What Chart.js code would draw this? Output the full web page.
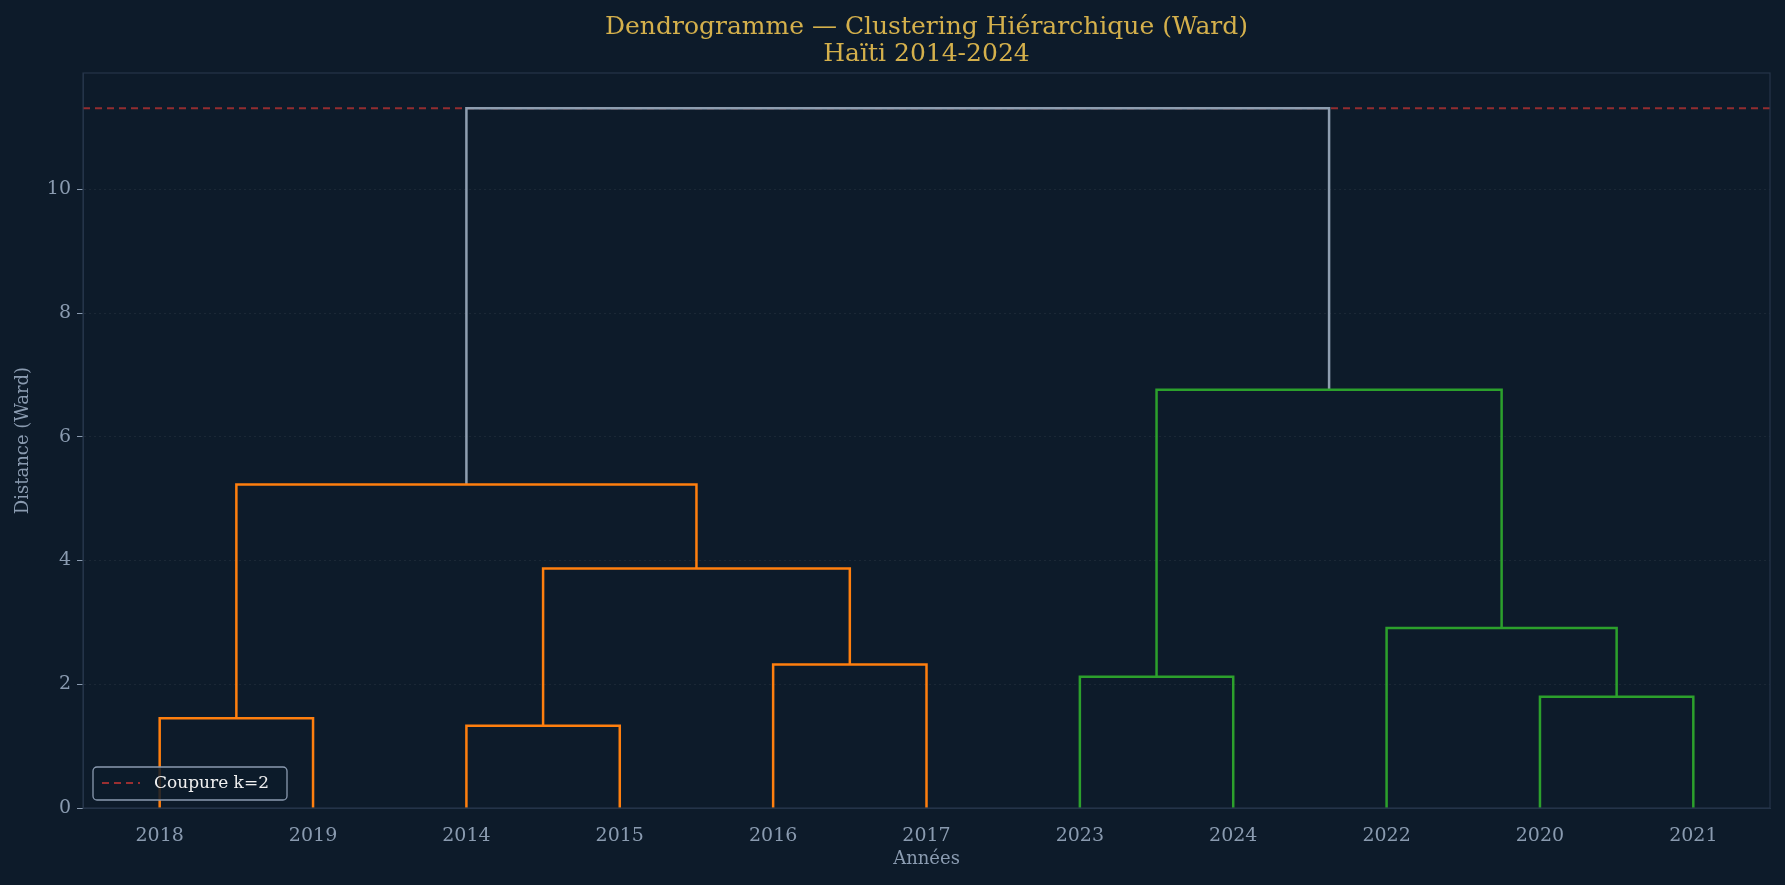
<!DOCTYPE html>
<html><head><meta charset="utf-8">
<script src="https://cdn.jsdelivr.net/npm/chart.js@4/dist/chart.umd.min.js"></script>
<style>html,body{margin:0;padding:0;background:#0d1b2a;}#w{width:1785px;height:885px;}</style>
</head><body><div id="w"><canvas id="c"></canvas></div>
<script>
const leafLabels = ['2018','2019','2014','2015','2016','2017','2023','2024','2022','2020','2021'];
// merges: children are leaf indices (0..10) or previous merge ids ('m0'...)
const mergeLeft   = [0, 2, 4, 'm1', 'm0', 6, 9, 8, 'm5', 'm4'];
const mergeRight  = [1, 3, 5, 'm2', 'm3', 7, 10, 'm6', 'm7', 'm8'];
const mergeHeight = [1.45, 1.33, 2.32, 3.87, 5.23, 2.12, 1.80, 2.91, 6.76, 11.31];
const mergeColor  = ['o','o','o','o','o','g','g','g','g','root'];
const cutHeight = 11.31;
const cutLabel = 'Coupure k=2';

const COLORS = {o:'#ff7f0e', g:'#2ca02c', root:'#8e9eb0'};
const FONT = "'DejaVu Serif', serif";
const pos = {};
leafLabels.forEach((l,i)=>{pos[i]={x:5+10*i,y:0};});
const datasets = [];
mergeLeft.forEach((l,i)=>{
  const a=pos[l], b=pos[mergeRight[i]], h=mergeHeight[i];
  datasets.push({data:[{x:a.x,y:a.y},{x:a.x,y:h},{x:b.x,y:h},{x:b.x,y:b.y}],
    borderColor:COLORS[mergeColor[i]], borderWidth:2.5, pointRadius:0, showLine:true, fill:false});
  pos['m'+i]={x:(a.x+b.x)/2,y:h};
});
datasets.push({label:cutLabel,data:[{x:0,y:cutHeight},{x:110,y:cutHeight}],borderColor:'rgba(180,50,50,0.8)',
  borderDash:[7,5],borderWidth:1.8,pointRadius:0,showLine:true});

const deco = {id:'deco',
  beforeDraw(c){const x=c.ctx;x.save();x.fillStyle='#0d1b2a';x.fillRect(0,0,c.width,c.height);x.restore();},
  afterDraw(c){
    const x=c.ctx, a=c.chartArea; x.save();
    x.strokeStyle='#25354a'; x.lineWidth=1.2; x.strokeRect(a.left,a.top,a.right-a.left,a.bottom-a.top);
    x.fillStyle='#d4b04c'; x.font="25px "+FONT; x.textAlign='center'; x.textBaseline='middle';
    const cx=(a.left+a.right)/2;
    x.fillText('Dendrogramme — Clustering Hiérarchique (Ward)',cx,27);
    x.fillText('Haïti 2014-2024',cx,54);
    // legend
    const lx=93, ly=767, lw=194, lh=33;
    x.fillStyle='rgba(13,27,42,0.85)'; x.strokeStyle='#8a9ab0'; x.lineWidth=1.3;
    x.beginPath(); x.roundRect(lx,ly,lw,lh,4); x.fill(); x.stroke();
    x.strokeStyle='rgba(180,50,50,0.85)'; x.lineWidth=1.8; x.setLineDash([7,5]);
    x.beginPath(); x.moveTo(lx+9,ly+16); x.lineTo(lx+47,ly+16); x.stroke(); x.setLineDash([]);
    x.fillStyle='#f0f0f0'; x.font="17px "+FONT; x.textAlign='left';
    x.fillText(cutLabel,lx+61,ly+16.5);
    x.restore();
  }};

new Chart(document.getElementById('c'),{type:'scatter',data:{datasets},
  options:{responsive:true,maintainAspectRatio:false,animation:false,
    layout:{padding:{left:9,right:15,top:73,bottom:11}},
    plugins:{legend:{display:false},tooltip:{enabled:false}},
    scales:{
      x:{type:'linear',min:0,max:110,
        afterBuildTicks(s){s.ticks=leafLabels.map((_,i)=>({value:5+10*i}));},
        afterFit(s){s.height=66;},
        ticks:{autoSkip:false,maxRotation:0,color:'#8a9bb0',font:{family:FONT,size:19},padding:17,
          callback:(v)=>leafLabels[Math.round((v-5)/10)]},
        grid:{display:false,drawTicks:true,tickLength:0},border:{color:'#25354a'},
        title:{display:true,text:'Années',color:'#8a9bb0',font:{family:FONT,size:18},padding:{top:2}}},
      y:{min:0,max:11.88,
        afterBuildTicks(s){s.ticks=[0,2,4,6,8,10].map(v=>({value:v}));},
        afterFit(s){s.width=74;},
        ticks:{color:'#8a9bb0',font:{family:FONT,size:19},padding:6},
        grid:{color:'rgba(255,255,255,0.06)',tickColor:'#8a9bb0',tickLength:6,drawOnChartArea:true},
        border:{color:'#25354a',dash:[2,3]},
        title:{display:true,text:'Distance (Ward)',color:'#8a9bb0',font:{family:FONT,size:18},padding:{bottom:4}}}
    }},plugins:[deco]});
</script></body></html>
